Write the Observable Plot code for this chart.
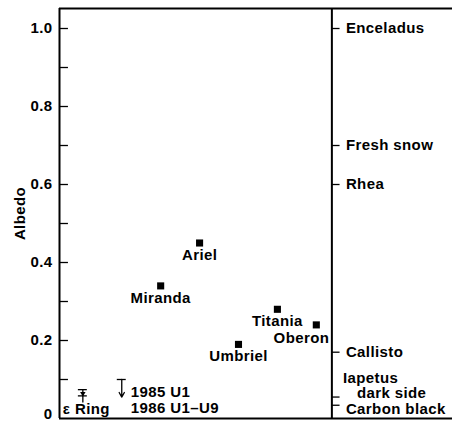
<!DOCTYPE html>
<html>
<head>
<meta charset="utf-8">
<script src="https://cdn.jsdelivr.net/npm/d3@7"></script>
<script src="https://cdn.jsdelivr.net/npm/@observablehq/plot@0.6"></script>
<style>
  html, body { margin: 0; padding: 0; background: #fff; }
  #chart svg { display: block; }
</style>
</head>
<body>
<div id="chart"></div>
<script>
// Uranian satellites (ordered by distance from Uranus)
const satellites = ["Miranda", "Ariel", "Umbriel", "Titania", "Oberon"];
const satAlbedo  = [0.34, 0.45, 0.19, 0.28, 0.24];
const satOrder   = [2, 3, 4, 5, 6];

// Epsilon ring (error bar) and 1985 U1 (upper limit)
const ringLabel = "ε Ring";
const ringLow = 0.04, ringHigh = 0.074, ringMid = 0.058;
const u1Label = "1985 U1";
const u1Limit = 0.10, u1ArrowTip = 0.055;
const u9Label = "1986 U1–U9";

// Comparison objects (right panel)
const refNames  = ["Enceladus", "Fresh snow", "Rhea", "Callisto", "Iapetus dark side", "Carbon black"];
const refAlbedo = [1.0, 0.70, 0.60, 0.17, 0.055, 0.034];

// Axis ticks
const yTicks = [0, 0.2, 0.4, 0.6, 0.8, 1.0];
const yMinorTicks = [0.1, 0.3, 0.5, 0.7, 0.9];

const xMin = -0.6, xMax = 9.5, panelX = 6.4, yMax = 1.0513;

const sats = satellites.map((name, i) => ({name, albedo: satAlbedo[i], order: satOrder[i]}));
const refs = refNames.map((name, i) => ({name, albedo: refAlbedo[i]}));
const simpleRefs = refs.filter(d => d.name !== "Iapetus dark side" && d.name !== "Carbon black");
const iapetus = refs.find(d => d.name === "Iapetus dark side");
const carbon = refs.find(d => d.name === "Carbon black");
const allTicks = yTicks.concat(yMinorTicks).filter(d => d > 0);
const fmt = d => d === 0 ? "0" : d.toFixed(1);

const font = "'Liberation Sans', Arial, Helvetica, sans-serif";

const chart = Plot.plot({
  width: 452,
  height: 421,
  marginLeft: 59,
  marginRight: 0,
  marginTop: 8,
  marginBottom: 3,
  style: {fontFamily: font, fontSize: "15px", fontWeight: "bold", color: "#000", background: "#fff", letterSpacing: "0.4px"},
  x: {domain: [xMin, xMax], axis: null},
  y: {domain: [0, yMax], axis: null},
  marks: [
    // frame
    Plot.ruleX([xMin], {y1: 0, y2: yMax, strokeWidth: 2, stroke: "#000"}),
    Plot.ruleX([panelX], {y1: 0, y2: yMax, strokeWidth: 2, stroke: "#000"}),
    Plot.ruleY([0, yMax], {x1: xMin, x2: xMax, strokeWidth: 2, stroke: "#000"}),
    // inward ticks on left axis
    Plot.ruleY(allTicks, {y: d => d, x1: xMin, x2: xMin + 0.23, strokeWidth: 1.3, stroke: "#000"}),
    // tick labels
    Plot.text(yTicks.filter(d => d > 0), {x: xMin, y: d => d, text: fmt, dx: -7, textAnchor: "end", lineAnchor: "middle"}),
    Plot.text(yTicks.filter(d => d === 0), {x: xMin, y: d => d, text: fmt, dx: -7, textAnchor: "end", lineAnchor: "bottom", dy: 0}),
    // y-axis title
    Plot.text(["Albedo"], {x: xMin, y: yMax / 2, rotate: -90, dx: -39, text: d => d, fontSize: 15, fontWeight: "bold", textAnchor: "middle", lineAnchor: "middle"}),
    // satellites
    Plot.dot(sats, {x: "order", y: "albedo", symbol: "square", r: 4, fill: "#000", stroke: null}),
    Plot.text(sats.filter(d => d.name !== "Oberon"), {x: "order", y: "albedo", text: "name", dy: 12, lineAnchor: "middle"}),
    Plot.text(sats.filter(d => d.name === "Oberon"), {x: "order", y: "albedo", text: "name", dy: 13, dx: 13, textAnchor: "end", lineAnchor: "middle"}),
    // epsilon ring error bar
    Plot.ruleX([0], {y1: ringLow, y2: ringHigh, strokeWidth: 1.3, stroke: "#000"}),
    Plot.ruleY([ringHigh, ringMid], {y: d => d, x1: -0.115, x2: 0.115, strokeWidth: 1.3, stroke: "#000"}),
    Plot.dot([ringHigh], {x: 0, y: d => d, dy: 4, symbol: "triangle", r: 2, fill: "#000", rotate: 180}),
    Plot.text([ringLabel], {x: 0, y: 0, dy: -9, dx: -20, text: d => d, textAnchor: "start", lineAnchor: "middle"}),
    // 1985 U1 upper limit
    Plot.ruleY([u1Limit], {x1: 1 - 0.115, x2: 1 + 0.115, strokeWidth: 1.3, stroke: "#000"}),
    Plot.arrow([u1Limit], {x1: 1, x2: 1, y1: d => d, y2: u1ArrowTip, headLength: 6, strokeWidth: 1.3, stroke: "#000"}),
    Plot.text([u1Label], {x: 1, y: u1Limit, dx: 9, dy: 13, text: d => d, textAnchor: "start", lineAnchor: "middle"}),
    Plot.text([u9Label], {x: 1, y: 0, dx: 9, dy: -10, text: d => d, textAnchor: "start", lineAnchor: "middle"}),
    // right panel: comparison objects
    Plot.ruleY(refs, {y: "albedo", x1: panelX, x2: panelX + 0.21, strokeWidth: 1.3, stroke: "#000"}),
    Plot.text(simpleRefs, {x: panelX, y: "albedo", text: "name", dx: 14, textAnchor: "start", lineAnchor: "middle"}),
    Plot.text([iapetus], {x: panelX, y: "albedo", text: () => "Iapetus", dx: 11, dy: -19, textAnchor: "start", lineAnchor: "middle"}),
    Plot.text([iapetus], {x: panelX, y: "albedo", text: () => "dark side", dx: 25, dy: -4, textAnchor: "start", lineAnchor: "middle"}),
    Plot.text([carbon], {x: panelX, y: "albedo", text: "name", dx: 14, dy: 4, textAnchor: "start", lineAnchor: "middle"})
  ]
});

document.getElementById("chart").appendChild(chart);
</script>
</body>
</html>
